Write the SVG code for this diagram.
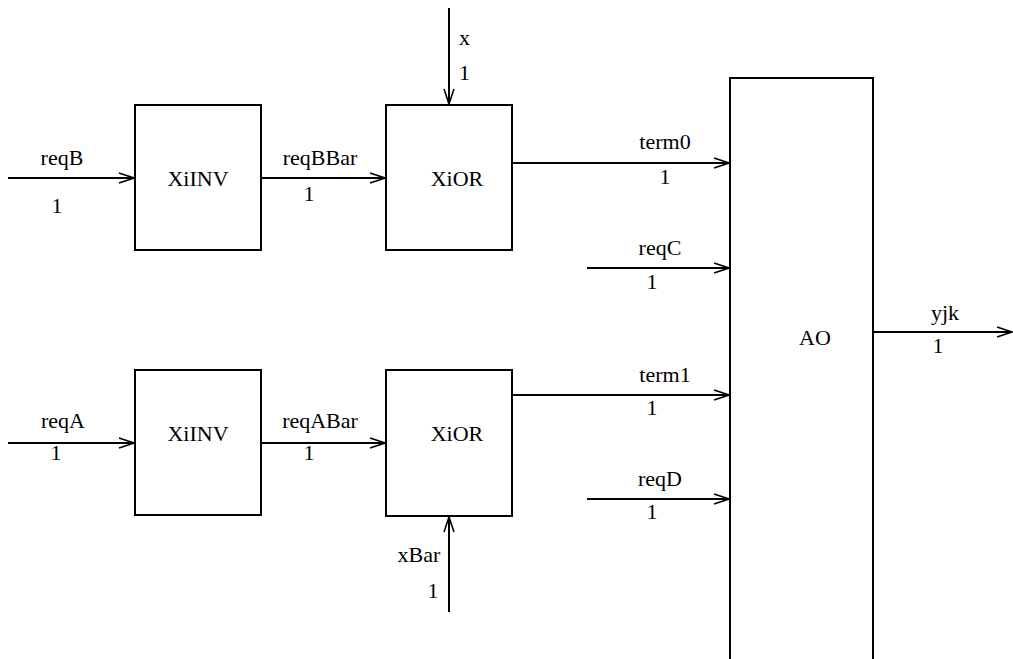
<svg xmlns="http://www.w3.org/2000/svg" width="1013" height="659" viewBox="0 0 1013 659">
<style>
.box{fill:#fff;stroke:#000;stroke-width:2}
.w{stroke:#000;stroke-width:2;fill:none;marker-end:url(#arr)}
text{font-family:"Liberation Serif","Times New Roman",serif;font-size:22px;fill:#000}
.c{text-anchor:middle}
</style>
<defs>
<marker id="arr" markerWidth="18" markerHeight="12" refX="16" refY="6" orient="auto" markerUnits="userSpaceOnUse">
<polyline points="1,1 16,6 1,11" fill="none" stroke="#000" stroke-width="1.6"/>
</marker>
</defs>
<rect width="1013" height="659" fill="#fff"/>
<g id="connectors">
<line class="w" x1="8" y1="178" x2="134" y2="178"/>
<line class="w" x1="261" y1="178" x2="385" y2="178"/>
<line class="w" x1="449" y1="8" x2="449" y2="104"/>
<line class="w" x1="512" y1="163" x2="729" y2="163"/>
<line class="w" x1="587" y1="268" x2="729" y2="268"/>
<line class="w" x1="512" y1="395" x2="729" y2="395"/>
<line class="w" x1="587" y1="499" x2="729" y2="499"/>
<line class="w" x1="873" y1="332" x2="1012" y2="332"/>
<line class="w" x1="8" y1="443" x2="134" y2="443"/>
<line class="w" x1="261" y1="443" x2="385" y2="443"/>
<line class="w" x1="449" y1="612" x2="449" y2="517"/>
<text class="c" x="62" y="165">reqB</text><text class="c" x="57" y="213">1</text>
<text class="c" x="320" y="165">reqBBar</text><text class="c" x="309" y="201">1</text>
<text x="459" y="45">x</text><text x="459" y="80">1</text>
<text class="c" x="665" y="149">term0</text><text class="c" x="665" y="184">1</text>
<text class="c" x="660" y="255">reqC</text><text class="c" x="652" y="289">1</text>
<text class="c" x="665" y="382">term1</text><text class="c" x="652" y="415">1</text>
<text class="c" x="660" y="486">reqD</text><text class="c" x="652" y="519">1</text>
<text class="c" x="945" y="320">yjk</text><text class="c" x="938" y="353">1</text>
<text class="c" x="63" y="428">reqA</text><text class="c" x="56" y="460">1</text>
<text class="c" x="320" y="428">reqABar</text><text class="c" x="309" y="460">1</text>
<text class="c" x="419" y="562">xBar</text><text class="c" x="433" y="598">1</text>
</g>
<g id="inv_top"><rect class="box" x="135" y="105" width="126" height="145"/><text class="c" x="198" y="186">XiINV</text></g>
<g id="or_top"><rect class="box" x="386" y="105" width="126" height="145"/><text class="c" x="457" y="186">XiOR</text></g>
<g id="inv_bot"><rect class="box" x="135" y="370" width="126" height="145"/><text class="c" x="198" y="441">XiINV</text></g>
<g id="or_bot"><rect class="box" x="386" y="370" width="126" height="146"/><text class="c" x="457" y="441">XiOR</text></g>
<g id="ao"><path class="box" d="M730,665 V78 H873 V665"/><text class="c" x="815" y="345">AO</text></g>
</svg>
